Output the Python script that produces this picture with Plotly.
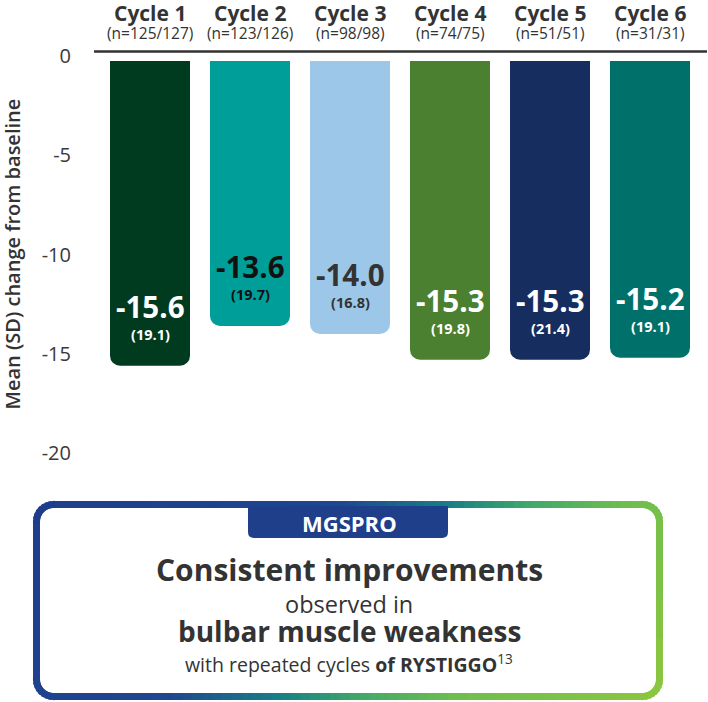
import numpy as np
import plotly.graph_objects as go

# data
cycles = ["Cycle 1", "Cycle 2", "Cycle 3", "Cycle 4", "Cycle 5", "Cycle 6"]
n_labels = ["(n=125/127)", "(n=123/126)", "(n=98/98)", "(n=74/75)", "(n=51/51)", "(n=31/31)"]
mean_change = [-15.6, -13.6, -14.0, -15.3, -15.3, -15.2]
sd_values = [19.1, 19.7, 16.8, 19.8, 21.4, 19.1]

bar_colors = ["#003b20", "#009e98", "#9dc7e8", "#4a8030", "#162d60", "#00716a"]
label_colors = ["white", "#111111", "#333333", "white", "white", "white"]

W, H = 708, 702
ML, MR, MT, MB = 100, 8, 46, 239
PW, PH = W - ML - MR, H - MT - MB
FONT = "Open Sans"
DARK = "#333333"


# pixel -> paper fraction
def px(x):
    return (x - ML) / PW


def py(y):
    return (H - MB - y) / PH


fig = go.Figure()
fig.add_trace(go.Bar(
    x=cycles,
    y=mean_change,
    marker=dict(color=bar_colors, line_width=0),
    hoverinfo="skip",
))

annotations = []
for c, n, m, sd, col in zip(cycles, n_labels, mean_change, sd_values, label_colors):
    annotations.append(dict(x=c, y=1, xref="x", yref="paper", text="<b>%s</b>" % c,
                            showarrow=False, yanchor="middle", yshift=33.5,
                            font=dict(size=21, color=DARK, family=FONT)))
    annotations.append(dict(x=c, y=1, xref="x", yref="paper", text=n,
                            showarrow=False, yanchor="middle", yshift=13,
                            font=dict(size=15.5, color=DARK, family=FONT)))
    annotations.append(dict(x=c, y=m, xref="x", yref="y", text="<b>%.1f</b>" % m,
                            showarrow=False, yanchor="middle", yshift=59,
                            font=dict(size=29.5, color=col, family=FONT)))
    annotations.append(dict(x=c, y=m, xref="x", yref="y", text="<b>(%.1f)</b>" % sd,
                            showarrow=False, yanchor="middle", yshift=31,
                            font=dict(size=14.5, color=col, family=FONT)))

# y axis title
annotations.append(dict(x=px(12), y=0.5, xref="paper", yref="paper",
                        text="Mean (SD) change from baseline", textangle=-90,
                        showarrow=False, xanchor="center", yanchor="middle",
                        font=dict(size=20, color=DARK, family=FONT, weight=600)))

# callout box text
bx = 349
annotations += [
    dict(x=px(bx), y=py(523), text="<b>MGSPRO</b>",
         font=dict(size=22, color="white", family=FONT)),
    dict(x=px(bx), y=py(569), text="<b>Consistent improvements</b>",
         font=dict(size=30, color=DARK, family=FONT)),
    dict(x=px(bx), y=py(604), text="observed in",
         font=dict(size=23.5, color=DARK, family=FONT)),
    dict(x=px(bx), y=py(631), text="<b>bulbar muscle weakness</b>",
         font=dict(size=28, color=DARK, family=FONT)),
    dict(x=px(bx), y=py(663), text="with repeated cycles <b>of RYSTIGGO</b><sup>13</sup>",
         font=dict(size=19.5, color=DARK, family=FONT)),
]
for a in annotations[-5:]:
    a.update(xref="paper", yref="paper", showarrow=False, xanchor="center", yanchor="middle")

shapes = []
# baseline rule just above zero, and a thin white gap under it
shapes.append(dict(type="line", xref="paper", yref="y", ysizemode="pixel", yanchor=0,
                   x0=px(94), x1=px(707), y0=4.5, y1=4.5,
                   line=dict(color=DARK, width=2.5)))
shapes.append(dict(type="rect", xref="paper", yref="y", ysizemode="pixel", yanchor=0,
                   x0=0, x1=1, y0=2, y1=-5, fillcolor="white", line_width=0, layer="above"))

# gradient rounded border of the callout box
x0b, x1b, y0b, y1b, r = 36.5, 659.5, 504.5, 696.5, 17
pts = []
def arc(cx, cy, a0, a1, k=8):
    for a in np.linspace(a0, a1, k, endpoint=False):
        pts.append((cx + r * np.cos(a), cy + r * np.sin(a)))
def seg(xa, ya, xb, yb, k):
    for t in np.linspace(0, 1, k, endpoint=False):
        pts.append((xa + (xb - xa) * t, ya + (yb - ya) * t))
seg(x0b + r, y0b, x1b - r, y0b, 60)
arc(x1b - r, y0b + r, -np.pi / 2, 0)
seg(x1b, y0b + r, x1b, y1b - r, 4)
arc(x1b - r, y1b - r, 0, np.pi / 2)
seg(x1b - r, y1b, x0b + r, y1b, 60)
arc(x0b + r, y1b - r, np.pi / 2, np.pi)
seg(x0b, y1b - r, x0b, y0b + r, 4)
arc(x0b + r, y0b + r, np.pi, 1.5 * np.pi)
pts.append(pts[0])

stops = [(0.0, (31, 61, 140)), (0.38, (31, 70, 144)), (0.52, (24, 127, 134)),
         (0.62, (63, 168, 106)), (0.74, (110, 190, 78)), (1.0, (141, 198, 63))]
def grad(t):
    t = min(max(t, 0), 1)
    for (ta, ca), (tb, cb) in zip(stops[:-1], stops[1:]):
        if t <= tb:
            f = (t - ta) / (tb - ta)
            c = [int(round(a + (b - a) * f)) for a, b in zip(ca, cb)]
            return "rgb(%d,%d,%d)" % tuple(c)
    return "rgb(141,198,63)"

span = (x1b - x0b) + 0.9 * (y1b - y0b)
for (xa, ya), (xb, yb) in zip(pts[:-1], pts[1:]):
    t = (((xa + xb) / 2 - x0b) + 0.9 * ((ya + yb) / 2 - y0b)) / span
    # stretch each piece a little so neighbours overlap and leave no seams
    d = np.hypot(xb - xa, yb - ya)
    ux, uy = (xb - xa) / d, (yb - ya) / d
    e = 1.5
    shapes.append(dict(type="line", xref="paper", yref="paper",
                       x0=px(xa - ux * e), y0=py(ya - uy * e),
                       x1=px(xb + ux * e), y1=py(yb + uy * e),
                       line=dict(color=grad(t), width=7)))

# MGSPRO tab with rounded bottom corners
tx0, tx1, ty0, ty1, tr = 248, 448, 506, 538, 6
tab = "M %f,%f L %f,%f L %f,%f Q %f,%f %f,%f L %f,%f Q %f,%f %f,%f Z" % (
    px(tx0), py(ty0), px(tx1), py(ty0),
    px(tx1), py(ty1 - tr), px(tx1), py(ty1), px(tx1 - tr), py(ty1),
    px(tx0 + tr), py(ty1), px(tx0), py(ty1), px(tx0), py(ty1 - tr))
shapes.append(dict(type="path", xref="paper", yref="paper", path=tab,
                   fillcolor="#1f3f8a", line_width=0))

fig.update_layout(
    width=W, height=H,
    margin=dict(l=ML, r=MR, t=MT, b=MB, pad=0),
    paper_bgcolor="white", plot_bgcolor="white",
    showlegend=False,
    hovermode=False,
    bargap=0.2,
    barcornerradius=10,
    font=dict(family=FONT, color=DARK),
    xaxis=dict(showticklabels=False, showgrid=False, zeroline=False, showline=False,
               fixedrange=True),
    yaxis=dict(range=[-20.5, 0.5], tickvals=[0, -5, -10, -15, -20],
               ticktext=["0", "-5", "-10", "-15", "-20"],
               showgrid=False, zeroline=False, showline=False, fixedrange=True,
               ticklabelstandoff=28, tickfont=dict(size=20, color="#3a3a3a", family=FONT)),
    annotations=annotations,
    shapes=shapes,
)

# drop the browser's default 8px body margin so the figure fills the window
fig.write_html("out.html", config={"displayModeBar": False},
               post_script="document.body.style.margin='0px';")
